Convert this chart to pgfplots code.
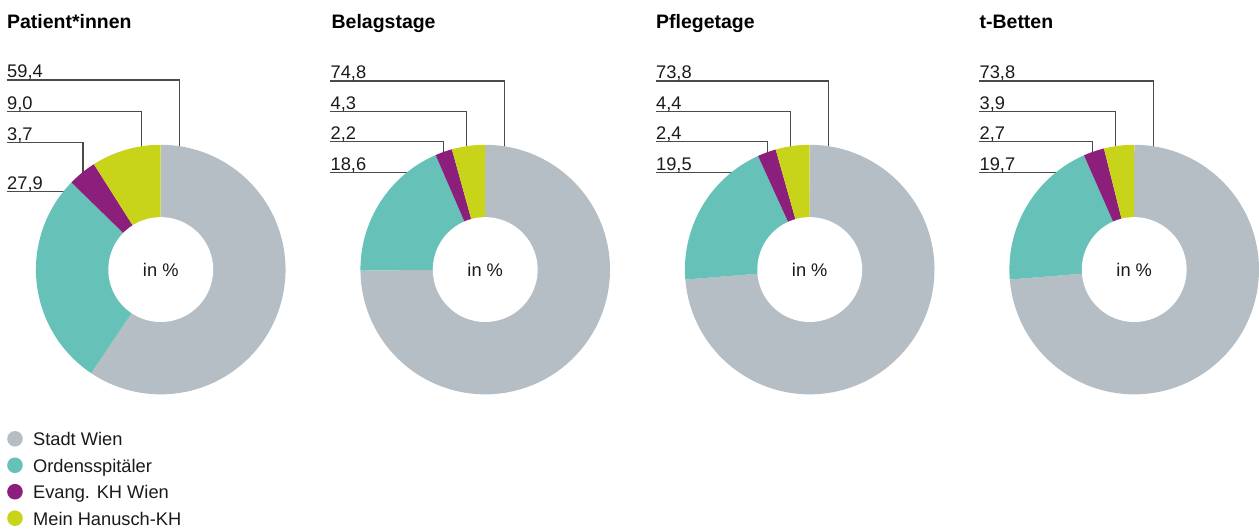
\documentclass[border=0pt]{standalone}
\usepackage{fontspec}
\setmainfont{Liberation Sans}
\usepackage{pgfplots}
\pgfplotsset{compat=1.18}
\definecolor{cgray}{HTML}{B6BEC5}
\definecolor{cteal}{HTML}{66C2B8}
\definecolor{cpurple}{HTML}{8C1F7C}
\definecolor{clime}{HTML}{C8D41A}
\definecolor{cline}{HTML}{4A4A4A}
\definecolor{ctext}{HTML}{1A1A1A}
\newcommand{\lbl}{\fontsize{18.3bp}{20bp}\selectfont}
\newcommand{\ttl}{\fontsize{19.5bp}{21bp}\selectfont\bfseries}

% one slice: #1 cx, #2 start angle, #3 end angle (smaller), #4 colour
\newcommand{\slice}[4]{%
  \edef\tmp{\noexpand\addplot[fill=#4, draw=none, domain=#3:#2, samples=90, variable=\noexpand\t]
    ({#1+125*cos(\noexpand\t)}, {270-125*sin(\noexpand\t)}) -- (axis cs:#1,270) -- cycle;}\tmp}

% donut: #1 cx, #2..#5 values (Stadt Wien, Ordensspitaeler, Evang. KH, Hanusch)
\newcommand{\donut}[5]{%
  \pgfmathsetmacro\T{#2+#3+#4+#5}%
  \pgfmathsetmacro\B{90-360*((#2)/\T)}%
  \pgfmathsetmacro\C{90-360*((#2+#3)/\T)}%
  \pgfmathsetmacro\D{90-360*((#2+#3+#4)/\T)}%
  \slice{#1}{90}{\B}{cgray}%
  \slice{#1}{\B}{\C}{cteal}%
  \slice{#1}{\C}{\D}{cpurple}%
  \slice{#1}{\D}{-270}{clime}%
  \edef\tmp{\noexpand\addplot[fill=white, draw=none, domain=0:360, samples=120, variable=\noexpand\t]
    ({#1+52.5*cos(\noexpand\t)}, {270-52.5*sin(\noexpand\t)}) -- cycle;}\tmp
  \node[font=\lbl, text=ctext] at (axis cs:#1,270) {in \%};%
}

\begin{document}
\begin{tikzpicture}
\begin{axis}[
  x=1bp, y=1bp, xmin=0, xmax=1259, ymin=0, ymax=530,
  y dir=reverse, hide axis, scale only axis, clip=false,
]
\path (axis cs:0,0) rectangle (axis cs:1259,530);

% leader lines (drawn first, covered by the rings)
\begin{scope}[cline, line width=1.3bp]
\draw (axis cs:7,80) -- (axis cs:180,80) -- (axis cs:180,152);
\draw (axis cs:7,112) -- (axis cs:142,112) -- (axis cs:142,152);
\draw (axis cs:7,143) -- (axis cs:83,143) -- (axis cs:83,178);
\draw (axis cs:7,192) -- (axis cs:68,192);

\draw (axis cs:331,81) -- (axis cs:505,81) -- (axis cs:505,152);
\draw (axis cs:331,112) -- (axis cs:467,112) -- (axis cs:467,152);
\draw (axis cs:331,142) -- (axis cs:444,142) -- (axis cs:444,158);
\draw (axis cs:331,173) -- (axis cs:411,173);

\draw (axis cs:657,81) -- (axis cs:830,81) -- (axis cs:830,152);
\draw (axis cs:657,112) -- (axis cs:792,112) -- (axis cs:792,152);
\draw (axis cs:657,142) -- (axis cs:769,142) -- (axis cs:769,158);
\draw (axis cs:657,173) -- (axis cs:736,173);

\draw (axis cs:981,81) -- (axis cs:1155,81) -- (axis cs:1155,152);
\draw (axis cs:981,112) -- (axis cs:1117,112) -- (axis cs:1117,152);
\draw (axis cs:981,142) -- (axis cs:1094,142) -- (axis cs:1094,158);
\draw (axis cs:981,173) -- (axis cs:1060,173);
\end{scope}

\donut{161}{59.4}{27.9}{3.7}{9.0}
\donut{486}{74.8}{18.6}{2.2}{4.3}
\donut{811}{73.8}{19.5}{2.4}{4.4}
\donut{1136}{73.8}{19.7}{2.7}{3.9}

% titles
\begin{scope}[every node/.style={anchor=base west, font=\ttl, text=black, inner sep=0pt}]
\node at (axis cs:7,29) {Patient*innen};
\node at (axis cs:332,29) {Belagstage};
\node at (axis cs:657,29) {Pflegetage};
\node at (axis cs:981,29) {t-Betten};
\end{scope}

% value labels
\begin{scope}[every node/.style={anchor=base west, font=\lbl, text=ctext, inner sep=0pt}]
\node at (axis cs:7,77.5) {59,4};
\node at (axis cs:7,109.5) {9,0};
\node at (axis cs:7,140.5) {3,7};
\node at (axis cs:7,189.5) {27,9};

\node at (axis cs:331,78.5) {74,8};
\node at (axis cs:331,109.5) {4,3};
\node at (axis cs:331,139.5) {2,2};
\node at (axis cs:331,170.5) {18,6};

\node at (axis cs:657,78.5) {73,8};
\node at (axis cs:657,109.5) {4,4};
\node at (axis cs:657,139.5) {2,4};
\node at (axis cs:657,170.5) {19,5};

\node at (axis cs:981,78.5) {73,8};
\node at (axis cs:981,109.5) {3,9};
\node at (axis cs:981,139.5) {2,7};
\node at (axis cs:981,170.5) {19,7};
\end{scope}

% legend
\fill[cgray] (axis cs:15,439.5) circle[radius=7.8bp];
\fill[cteal] (axis cs:15,466) circle[radius=7.8bp];
\fill[cpurple] (axis cs:15,492.5) circle[radius=7.8bp];
\fill[clime] (axis cs:15,519) circle[radius=7.8bp];
\begin{scope}[every node/.style={anchor=base west, font=\lbl, text=ctext, inner sep=0pt}]
\node at (axis cs:33,446.5) {Stadt Wien};
\node at (axis cs:33,473) {Ordensspitäler};
\node at (axis cs:33,499.5) {Evang. KH Wien};
\node at (axis cs:33,526) {Mein Hanusch-KH};
\end{scope}
\end{axis}
\end{tikzpicture}
\end{document}
